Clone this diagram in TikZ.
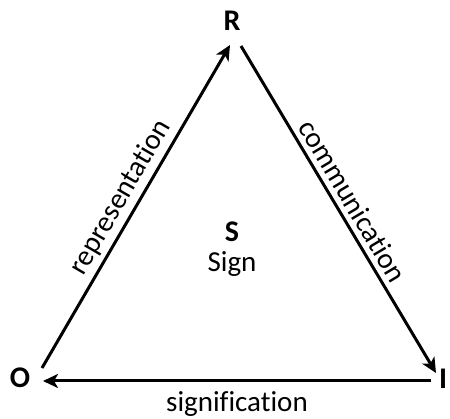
\documentclass[tikz,border=0pt]{standalone}
\usepackage{fontspec}
\setmainfont{Carlito}[Ligatures=NoCommon]
\usetikzlibrary{arrows.meta}
\begin{document}
\begin{tikzpicture}[x=1pt,y=-1pt,
  vtx/.style={font=\fontsize{30}{32}\selectfont\bfseries, inner sep=0pt},
  lbl/.style={font=\fontsize{29}{31}\selectfont, inner sep=0pt},
  edge/.style={line width=3pt, -{Stealth[length=15pt,width=14pt,inset=4pt]}}]
\useasboundingbox (0,0) rectangle (450,419);
\node[vtx] (R) at (232,21) {R};
\node[vtx] (O) at (20,378) {O};
\node[vtx] (I) at (443,379) {I};
\coordinate (oA) at (42,368);
\coordinate (rA) at (230,45);
\coordinate (rB) at (241,46);
\coordinate (iB) at (436,373);
\coordinate (iC) at (431,381);
\coordinate (oC) at (43,381);
\draw[edge] (oA) -- (rA) node[lbl, pos=0.5, above=4pt, sloped] {representation};
\draw[edge] (rB) -- (iB) node[lbl, pos=0.5, above=5pt, sloped] {communication};
\draw[edge] (iC) -- (oC) node[lbl, midway, below=9pt] {signification};
\node[vtx] (S) at (232,232) {S};
\node[lbl] (sign) at (232,264) {Sign};
\end{tikzpicture}
\end{document}
